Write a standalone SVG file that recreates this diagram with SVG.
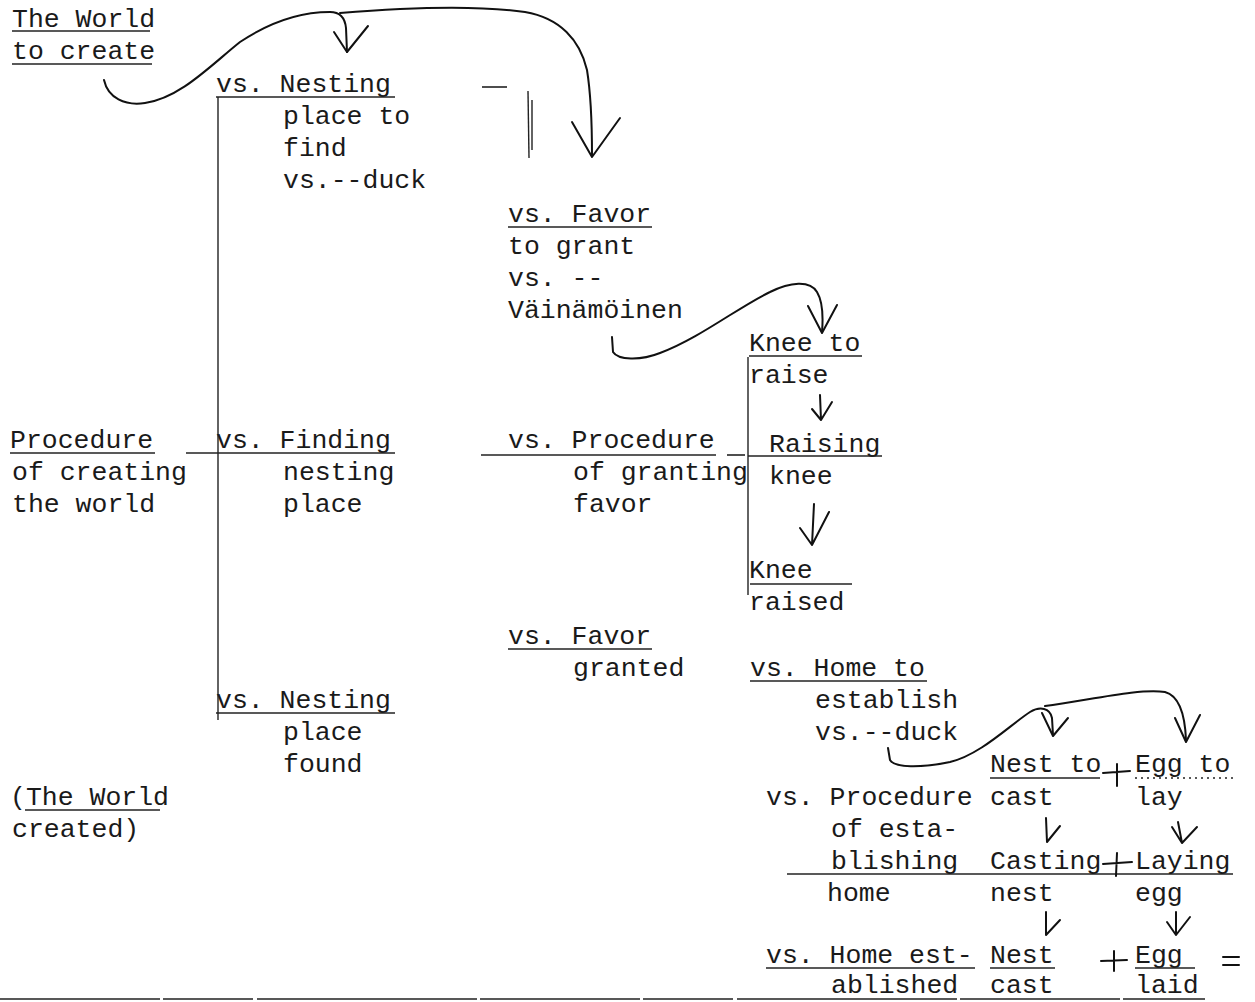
<svg xmlns="http://www.w3.org/2000/svg" width="1255" height="1002" viewBox="0 0 1255 1002">
<style>
text{font-family:"Liberation Mono","DejaVu Sans Mono",monospace;font-size:26.5px;fill:#1a1a1a;}
.u{stroke:#222;stroke-width:1.6;fill:none;}
.v{stroke:#222;stroke-width:1.4;fill:none;}
.h{stroke:#111;stroke-width:2;fill:none;stroke-linecap:round;stroke-linejoin:round;}
</style>
<rect width="1255" height="1002" fill="#ffffff"/>

<g id="world-to-create">
<text x="12" y="27">The World</text>
<text x="12" y="59">to create</text>
<line class="u" x1="12" y1="31" x2="150" y2="31"/>
<line class="u" x1="12" y1="64" x2="152" y2="64"/>
</g>

<g id="nesting-place-to-find">
<text x="216" y="92">vs. Nesting</text>
<text x="283" y="124">place to</text>
<text x="283" y="156">find</text>
<text x="283" y="188">vs.--duck</text>
<line class="u" x1="216" y1="97" x2="395" y2="97"/>
</g>

<g id="favor-to-grant">
<text x="508" y="222">vs. Favor</text>
<text x="508" y="254">to grant</text>
<text x="508" y="286">vs. --</text>
<text x="508" y="318">Väinämöinen</text>
<line class="u" x1="508" y1="227" x2="652" y2="227"/>
</g>

<g id="knee-to-raise">
<text x="749" y="351">Knee to</text>
<text x="749" y="383">raise</text>
<line class="u" x1="749" y1="356" x2="862" y2="356"/>
</g>

<g id="procedure-creating">
<text x="10" y="448">Procedure</text>
<text x="12" y="480">of creating</text>
<text x="12" y="512">the world</text>
<line class="u" x1="10" y1="453" x2="155" y2="453"/>
</g>

<g id="finding-nesting-place">
<text x="216" y="448">vs. Finding</text>
<text x="283" y="480">nesting</text>
<text x="283" y="512">place</text>
<line class="u" x1="186" y1="453" x2="395" y2="453"/>
</g>

<g id="procedure-granting">
<text x="508" y="448">vs. Procedure</text>
<text x="573" y="480">of granting</text>
<text x="573" y="512">favor</text>
<line class="u" x1="481" y1="455" x2="716" y2="455"/>
<line class="u" x1="727" y1="455" x2="745" y2="455"/>
</g>

<g id="raising-knee">
<text x="769" y="452">Raising</text>
<text x="769" y="484">knee</text>
<line class="u" x1="748" y1="456" x2="882" y2="456"/>
</g>

<g id="knee-raised">
<text x="749" y="578">Knee</text>
<text x="749" y="610">raised</text>
<line class="u" x1="750" y1="584" x2="852" y2="584"/>
</g>

<g id="favor-granted">
<text x="508" y="644">vs. Favor</text>
<text x="573" y="676">granted</text>
<line class="u" x1="508" y1="649" x2="652" y2="649"/>
</g>

<g id="home-to-establish">
<text x="750" y="676">vs. Home to</text>
<text x="815" y="708">establish</text>
<text x="815" y="740">vs.--duck</text>
<line class="u" x1="750" y1="681" x2="927" y2="681"/>
</g>

<g id="nesting-place-found">
<text x="216" y="708">vs. Nesting</text>
<text x="283" y="740">place</text>
<text x="283" y="772">found</text>
<line class="u" x1="216" y1="713" x2="395" y2="713"/>
</g>

<g id="world-created">
<text x="10" y="805">(The World</text>
<text x="12" y="837">created)</text>
<line class="u" x1="25" y1="810" x2="160" y2="810"/>
</g>

<g id="nest-to-cast">
<text x="990" y="772">Nest to</text>
<text x="990" y="805">cast</text>
<line class="u" x1="990" y1="778" x2="1100" y2="778"/>
</g>

<g id="egg-to-lay">
<text x="1135" y="772">Egg to</text>
<text x="1135" y="805">lay</text>
<line class="u" x1="1135" y1="778" x2="1234" y2="778" stroke-dasharray="2 4" stroke-width="1" stroke="#777"/>
</g>

<g id="procedure-establishing">
<text x="766" y="805">vs. Procedure</text>
<text x="831" y="837">of esta-</text>
<text x="831" y="869">blishing</text>
<text x="827" y="901">home</text>
<line class="u" x1="787" y1="874" x2="1233" y2="874"/>
</g>

<g id="casting-nest">
<text x="990" y="869">Casting</text>
<text x="990" y="901">nest</text>
</g>

<g id="laying-egg">
<text x="1135" y="869">Laying</text>
<text x="1135" y="901">egg</text>
</g>

<g id="home-established">
<text x="766" y="963">vs. Home est-</text>
<text x="831" y="993">ablished</text>
<line class="u" x1="766" y1="968" x2="975" y2="968"/>
</g>

<g id="nest-cast">
<text x="990" y="963">Nest</text>
<text x="990" y="993">cast</text>
<line class="u" x1="990" y1="968" x2="1055" y2="968"/>
</g>

<g id="egg-laid">
<text x="1135" y="963">Egg</text>
<text x="1135" y="993">laid</text>
<line class="u" x1="1135" y1="968" x2="1195" y2="968"/>
</g>

<g id="connectors">
<!-- typed brackets -->
<line class="v" x1="218" y1="97" x2="218" y2="720"/>
<line class="v" x1="748" y1="357" x2="748" y2="595"/>
<line class="u" x1="482" y1="87" x2="507" y2="87"/>
<line class="v" x1="528" y1="91" x2="529" y2="158"/>
<line class="v" x1="532" y1="100" x2="532" y2="150" stroke-width="1"/>
<line class="u" x1="0" y1="999" x2="1205" y2="999" stroke-dasharray="160 3 90 4 220 3"/>

<!-- handwritten arrows -->
<path class="h" d="M104,80 C108,98 125,106 145,103 C180,98 210,66 240,42 C270,22 300,12 330,12 C340,12 345,18 346,28 L347,52"/>
<path class="h" d="M334,32 L347,52 L368,26"/>
<path class="h" d="M340,13 C400,8 470,4 525,12 C560,18 580,40 587,70 C591,95 592,120 592,155"/>
<path class="h" d="M572,122 L592,157 L620,118"/>

<path class="h" d="M612,337 L613,352 C618,360 640,361 660,353 C700,338 740,306 770,292 C790,282 810,280 817,292 C823,302 823,320 822,332"/>
<path class="h" d="M808,306 L822,333 L837,305"/>

<path class="h" d="M820,395 L821,420 M812,409 L821,420 L832,402"/>
<path class="h" d="M814,504 L812,545 M800,528 L812,545 L829,512"/>

<path class="h" d="M888,748 L890,760 C895,768 920,768 950,762 C980,755 1010,725 1030,712 C1040,706 1050,708 1052,718 L1053,735"/>
<path class="h" d="M1042,713 L1053,736 L1068,718"/>
<path class="h" d="M1045,706 C1090,700 1140,688 1165,692 C1180,696 1185,715 1186,740"/>
<path class="h" d="M1175,718 L1186,742 L1200,715"/>

<path class="h" d="M1046,818 L1047,842 L1060,826"/>
<path class="h" d="M1178,822 L1182,843 L1197,827 M1172,827 L1182,843"/>
<path class="h" d="M1046,912 L1046,935 L1060,920"/>
<path class="h" d="M1176,912 L1176,935 L1190,917 M1167,922 L1176,935"/>

<!-- plus signs and equals -->
<path class="h" d="M1103,773 L1130,771 M1117,764 L1117,786"/>
<path class="h" d="M1103,864 L1132,862 M1117,853 L1116,876"/>
<path class="h" d="M1101,961 L1127,960 M1114,951 L1114,971"/>
<path class="h" d="M1223,957 L1239,957 M1223,965 L1239,965"/>
</g>
</svg>
